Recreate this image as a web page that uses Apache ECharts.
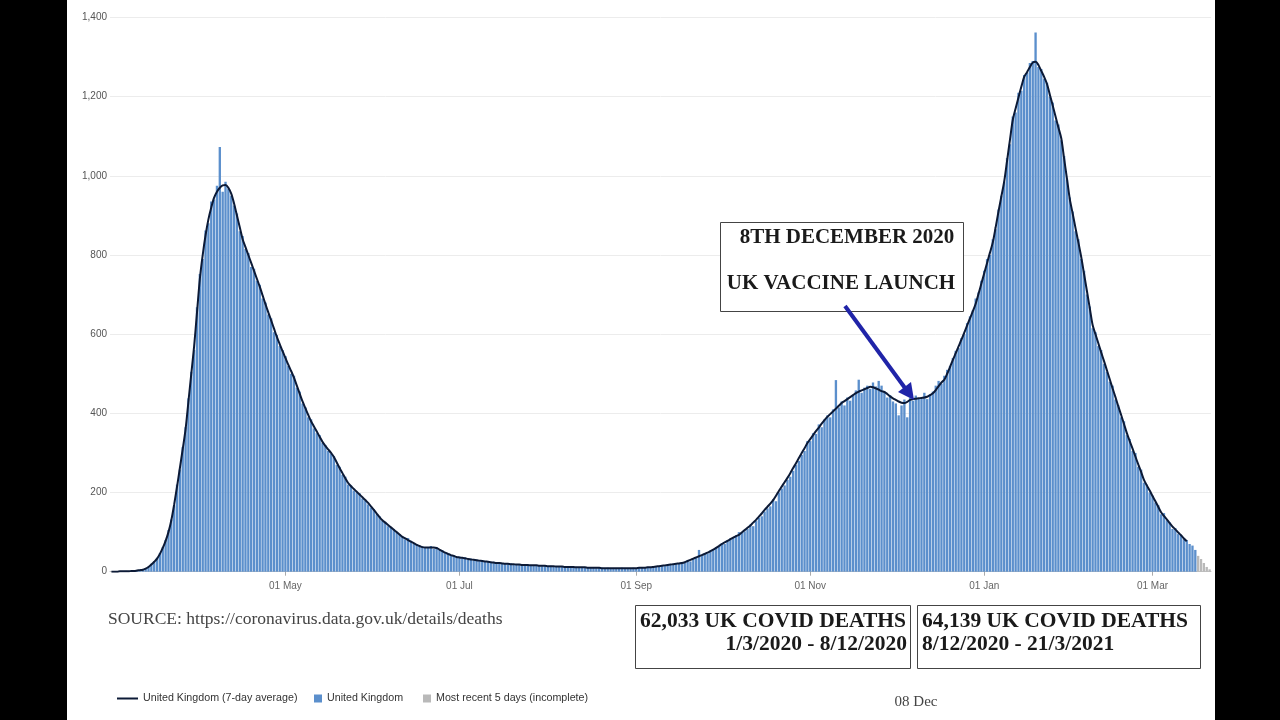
<!DOCTYPE html>
<html>
<head>
<meta charset="utf-8">
<script src="https://cdn.jsdelivr.net/npm/echarts@6/dist/echarts.min.js"></script>
<style>
  html, body { margin:0; padding:0; background:#000; width:1280px; height:720px; overflow:hidden; }
  #paper { position:absolute; left:67px; top:0; width:1148px; height:720px; background:#fff; }
  #chart { position:absolute; left:0; top:0; width:1280px; height:720px; }
</style>
</head>
<body>
<div id="paper"></div>
<div id="chart"></div>
<script>
// ---- Daily UK deaths (by date of death) ----
const startDate = [2020, 2, 1]; // 1 Mar 2020
const mar20 = [0,0,1,0,1,2,1,2,3,3,5,6,9,13,20,26,35,47,62,80,105,132,168,220,258,315,365,438,505,560,668];
const apr20 = [752,790,862,880,935,940,975,1073,960,985,968,950,925,905,860,848,815,805,770,765,735,725,690,680,650,640,605,598,570,560];
const may20 = [545,520,500,495,465,455,425,415,390,385,362,350,345,325,320,305,298,292,270,265,245,240,220,218,205,200,198,185,180,170,162];
const jun20 = [158,145,140,128,126,115,112,108,98,95,90,82,85,78,70,70,66,64,62,60,65,58,62,55,54,47,46,41,42,36];
const jul20 = [38,34,36,30,33,29,31,27,28,25,27,24,25,22,23,20,21,19,21,18,19,17,18,16,17,16,17,15,16,14,15];
const aug20 = [14,15,13,14,12,13,12,13,11,12,12,11,12,10,11,10,11,9,10,10,9,10,8,9,9,8,10,9,8,9,10];
const sep20 = [9,10,11,9,12,11,13,12,14,16,15,18,17,20,19,22,24,23,29,26,34,35,55,41,47,46,53,55,62,64];
const oct20 = [72,70,80,84,85,92,100,98,102,108,119,115,128,136,140,152,160,165,183,178,200,210,218,232,240,255,270,280,295,305,330];
const nov20 = [330,350,348,372,365,385,395,390,410,484,415,430,420,440,432,445,458,485,452,465,470,462,478,468,482,470,455,440,446,430];
const dec20 = [425,395,420,435,390,440,432,445,438,440,452,436,448,455,470,482,475,495,510,520,540,558,565,590,600,628,645,660,690,705,735];
const jan21 = [760,790,800,840,865,915,950,985,1045,1080,1150,1160,1210,1215,1255,1260,1285,1290,1362,1275,1270,1245,1235,1200,1185,1140,1130,1090,1050,990,945];
const feb21 = [910,860,840,790,760,700,670,615,605,570,560,525,505,480,470,435,420,390,380,345,335,305,300,265,258,225,220,200];
const mar21 = [192,175,168,145,148,130,125,108,110,95,93,82,80,70,66,55];
const recentIncomplete = [40,32,22,12,6]; // 17-21 Mar 2021

// ---- 7-day average line ----
const avgMar20 = [0,0,0,1,1,1,1,2,2,3,4,5,8,12,18,25,33,45,60,78,100,130,170,215,262,310,360,430,500,570,655];
const avgApr20 = [740,800,850,890,920,945,960,970,976,977,970,955,930,900,870,840,820,800,780,760,740,720,698,676,655,635,614,593,575,557];
const avgMay20 = [540,523,507,490,470,450,430,413,396,380,367,354,341,328,318,309,300,290,276,262,249,236,224,216,209,202,195,188,181,174,165];
const avgJun20 = [156,147,138,130,124,118,112,106,100,94,88,84,80,76,72,68,65,62,61,61,61,61,60,56,52,48,45,42,40,37];
const avgJul20 = [36,35,34,32,31,30,29,28,27,26,25,24,23,22,22,21,20,20,19,19,18,18,17,17,17,16,16,16,15,15,15];
const avgAug20 = [14,14,14,13,13,13,12,12,12,12,11,11,11,11,10,10,10,10,10,9,9,9,9,9,9,9,9,9,9,9,9];
const avgSep20 = [9,10,10,10,11,11,12,13,14,15,16,17,18,19,20,21,22,24,27,30,33,36,39,42,45,48,52,56,60,65];
const avgOct20 = [70,74,78,82,86,90,93,99,105,111,117,124,131,139,147,156,164,172,181,192,204,215,226,237,249,262,274,287,300,312,325];
const avgNov20 = [335,345,355,364,374,383,391,398,405,412,419,426,431,436,441,446,451,455,458,461,464,467,466,463,460,456,454,449,443,438];
const avgDec20 = [434,430,427,426,429,434,436,437,438,439,440,442,446,451,459,469,478,485,500,517,535,552,569,586,604,622,640,658,677,702,728];
const avgJan21 = [754,780,806,832,870,910,948,986,1038,1090,1141,1170,1198,1225,1250,1262,1275,1286,1288,1280,1265,1250,1232,1205,1178,1150,1122,1095,1044,993,941];
const avgFeb21 = [905,868,832,795,752,709,666,623,600,577,554,532,509,486,463,441,418,396,373,350,330,311,291,271,252,232,218,205];
const avgMar21 = [191,178,164,150,141,132,123,114,107,99,92,84,77];

// ---- Axis ----
const yTicks = { min: 0, max: 1400, interval: 200 };
const tickDates = ['2020-05-01','2020-07-01','2020-09-01','2020-11-01','2021-01-01','2021-03-01'];
const monthNames = ['Jan','Feb','Mar','Apr','May','Jun','Jul','Aug','Sep','Oct','Nov','Dec'];

// ---- Build ----
const complete = [].concat(mar20, apr20, may20, jun20, jul20, aug20, sep20, oct20, nov20, dec20, jan21, feb21, mar21);
const nDays = complete.length + recentIncomplete.length;
const avg = [].concat(avgMar20, avgApr20, avgMay20, avgJun20, avgJul20, avgAug20, avgSep20, avgOct20, avgNov20, avgDec20, avgJan21, avgFeb21, avgMar21);

const categories = [];
for (let i = 0; i < nDays; i++) {
  const d = new Date(Date.UTC(startDate[0], startDate[1], startDate[2] + i));
  const s = d.getUTCFullYear() + '-' + String(d.getUTCMonth() + 1).padStart(2, '0') + '-' + String(d.getUTCDate()).padStart(2, '0');
  categories.push(s);
}
const barData = complete.concat(recentIncomplete.map(() => null));
const greyData = complete.map(() => null).concat(recentIncomplete);
const lineData = avg.concat(new Array(nDays - avg.length).fill(null));

const fmtDate = (v) => {
  const p = v.split('-');
  return p[2] + ' ' + monthNames[parseInt(p[1], 10) - 1];
};
const showTick = (idx, v) => tickDates.indexOf(v) >= 0;

const SANS = '"Liberation Sans", Arial, sans-serif';
const SERIF = '"Liberation Serif", "Times New Roman", serif';
const legendText = { fontSize: 10.7, color: '#333', fontFamily: SANS };

const chart = echarts.init(document.getElementById('chart'), null, { renderer: 'canvas' });
chart.setOption({
  backgroundColor: 'transparent',
  animation: false,
  grid: { left: 110, right: 69, top: 17.5, bottom: 148.3, containLabel: false },
  xAxis: {
    type: 'category',
    data: categories,
    boundaryGap: true,
    axisLine: { lineStyle: { color: '#c4c4c4', width: 1 } },
    axisTick: { show: true, alignWithLabel: true, interval: showTick, length: 4, lineStyle: { color: '#aaa' } },
    axisLabel: { interval: showTick, formatter: fmtDate, color: '#666', fontSize: 10, fontFamily: SANS, margin: 10 },
    splitLine: { show: false }
  },
  yAxis: {
    type: 'value',
    min: yTicks.min, max: yTicks.max, interval: yTicks.interval,
    axisLine: { show: false },
    axisTick: { show: false },
    axisLabel: {
      color: '#555', fontSize: 10, fontFamily: SANS, margin: 3,
      formatter: (v) => v.toLocaleString('en-GB')
    },
    splitLine: { lineStyle: { color: '#ececec', width: 1 } }
  },
  legend: [
    { left: 112, top: 688, itemWidth: 21, itemHeight: 2, icon: 'rect', data: ['United Kingdom (7-day average)'], textStyle: legendText },
    { left: 309, top: 688, itemWidth: 8, itemHeight: 8, icon: 'rect', data: ['United Kingdom'], textStyle: legendText },
    { left: 418, top: 688, itemWidth: 8, itemHeight: 8, icon: 'rect', data: ['Most recent 5 days (incomplete)'], textStyle: legendText }
  ],
  series: [
    { name: 'United Kingdom', type: 'bar', data: barData, barCategoryGap: '18%', barGap: '-100%',
      itemStyle: { color: '#5b8fcc' }, z: 2 },
    { name: 'Most recent 5 days (incomplete)', type: 'bar', data: greyData, barCategoryGap: '18%', barGap: '-100%',
      itemStyle: { color: '#b9b9b9' }, z: 2 },
    { name: 'United Kingdom (7-day average)', type: 'line', data: lineData, smooth: 0.3, showSymbol: false, symbol: 'none',
      lineStyle: { color: '#0c1a36', width: 2 }, itemStyle: { color: '#0c1a36' }, z: 5, connectNulls: false }
  ],
  graphic: [
    { type: 'text', z: 100, style: { text: 'SOURCE: https://coronavirus.data.gov.uk/details/deaths', x: 108, y: 619,
      textVerticalAlign: 'middle', font: '17.5px ' + SERIF, fill: '#444' } },
    // top annotation
    { type: 'rect', z: 100, shape: { x: 720.5, y: 222.5, width: 243, height: 89 }, style: { fill: '#fff', stroke: '#444', lineWidth: 1 } },
    { type: 'text', z: 101, style: { text: '8TH DECEMBER 2020', x: 847, y: 238, textAlign: 'center', textVerticalAlign: 'middle',
      font: 'bold 21px ' + SERIF, fill: '#1a1a1a' } },
    { type: 'text', z: 101, style: { text: 'UK VACCINE LAUNCH', x: 841, y: 284, textAlign: 'center', textVerticalAlign: 'middle',
      font: 'bold 21px ' + SERIF, fill: '#1a1a1a' } },
    { type: 'line', z: 101, shape: { x1: 845, y1: 306, x2: 905, y2: 388 }, style: { stroke: '#2024a8', lineWidth: 4 } },
    { type: 'polygon', z: 101, shape: { points: [[914, 400], [898, 392], [911, 382]] }, style: { fill: '#2024a8' } },
    // bottom boxes
    { type: 'rect', z: 100, shape: { x: 635.5, y: 605.5, width: 275, height: 63 }, style: { fill: '#fff', stroke: '#444', lineWidth: 1 } },
    { type: 'text', z: 101, style: { text: '62,033 UK COVID DEATHS', x: 640, y: 621, textVerticalAlign: 'middle',
      font: 'bold 21.5px ' + SERIF, fill: '#1a1a1a' } },
    { type: 'text', z: 101, style: { text: '1/3/2020 - 8/12/2020', x: 907, y: 644, textAlign: 'right', textVerticalAlign: 'middle',
      font: 'bold 21.5px ' + SERIF, fill: '#1a1a1a' } },
    { type: 'rect', z: 100, shape: { x: 917.5, y: 605.5, width: 283, height: 63 }, style: { fill: '#fff', stroke: '#444', lineWidth: 1 } },
    { type: 'text', z: 101, style: { text: '64,139 UK COVID DEATHS', x: 922, y: 621, textVerticalAlign: 'middle',
      font: 'bold 21.5px ' + SERIF, fill: '#1a1a1a' } },
    { type: 'text', z: 101, style: { text: '8/12/2020 - 21/3/2021', x: 922, y: 644, textVerticalAlign: 'middle',
      font: 'bold 21.5px ' + SERIF, fill: '#1a1a1a' } },
    { type: 'text', z: 100, style: { text: '08 Dec', x: 916, y: 702, textAlign: 'center', textVerticalAlign: 'middle',
      font: '15px ' + SERIF, fill: '#444' } }
  ]
});
</script>
</body>
</html>
